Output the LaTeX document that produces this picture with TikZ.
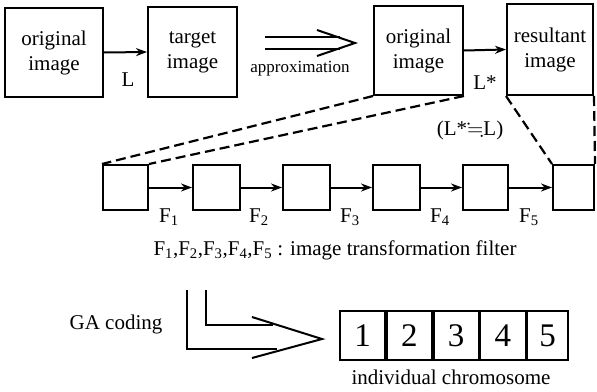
\documentclass[tikz,border=0pt]{standalone}
\usepackage{fontspec}
\usepackage{amssymb}
\setmainfont{Liberation Serif}
\usetikzlibrary{arrows.meta}
\begin{document}
\begin{tikzpicture}[x=1pt,y=-1pt,
  bigbox/.style={draw,line width=2pt,inner sep=0pt,align=center,font=\fontsize{21}{25}\selectfont},
  smallbox/.style={draw,line width=2pt,inner sep=0pt,minimum height=45pt},
  cell/.style={draw,line width=1.8pt,inner sep=0pt,minimum height=49pt,font=\fontsize{33}{34}\selectfont},
  arr/.style={line width=2pt,-{Stealth[length=11pt,width=8pt]}},
  thin/.style={line width=2pt},
  dsh/.style={line width=2.2pt,dash pattern=on 10pt off 5pt},
  lbl/.style={font=\fontsize{21}{24}\selectfont,inner sep=0pt},
]
\useasboundingbox (0,0) rectangle (597,391);
% top row
\node[bigbox,minimum width=98pt,minimum height=89pt] (o1) at (54,52.5) {original\\image};
\node[bigbox,minimum width=89pt,minimum height=90pt] (t) at (192.5,52) {target\\image};
\node[bigbox,minimum width=89pt,minimum height=89pt] (o2) at (418.5,50.5) {original\\image};
\node[bigbox,minimum width=86pt,minimum height=91pt] (r) at (550,49.5) {resultant\\image};
\draw[arr] (o1.east) -- (t.west);
\draw[arr] (o2.east) -- (r.west);
\node[lbl] (lL) at (128,80) {L};
\node[lbl] (lLs) at (485,83) {L*};
% approximation double arrow
\coordinate (a1) at (265,37);
\coordinate (a2) at (340,37);
\coordinate (a3) at (265,49);
\coordinate (a4) at (340,49);
\coordinate (ah1) at (317,30);
\coordinate (ah2) at (317,56);
\coordinate (atip) at (355,43);
\draw[thin] (a1) -- (a2);
\draw[thin] (a3) -- (a4);
\draw[thin,line join=miter] (ah1) -- (atip) -- (ah2);
\node[font=\fontsize{17}{20}\selectfont,inner sep=0pt] (ap) at (300,69) {approximation};
% relation label
\node[lbl] (rel) at (470,130) {(L*$\fallingdotseq$L)};
% small boxes
\node[smallbox,minimum width=45pt] (s1) at (125.5,187.5) {};
\node[smallbox,minimum width=47pt] (s2) at (216.5,187.5) {};
\node[smallbox,minimum width=47pt] (s3) at (306.5,187.5) {};
\node[smallbox,minimum width=47pt] (s4) at (396.5,187.5) {};
\node[smallbox,minimum width=45pt] (s5) at (485.5,187.5) {};
\node[smallbox,minimum width=41pt] (s6) at (573.5,187.5) {};
\draw[arr] (s1.east) -- (s2.west);
\draw[arr] (s2.east) -- (s3.west);
\draw[arr] (s3.east) -- (s4.west);
\draw[arr] (s4.east) -- (s5.west);
\draw[arr] (s5.east) -- (s6.west);
\node[lbl] (f1) at (169,217) {F\textsubscript{1}};
\node[lbl] (f2) at (259,217) {F\textsubscript{2}};
\node[lbl] (f3) at (350,217) {F\textsubscript{3}};
\node[lbl] (f4) at (440,217) {F\textsubscript{4}};
\node[lbl] (f5) at (529,217) {F\textsubscript{5}};
% zoom lines
\draw[dsh] (o2.south west) -- (s1.north west);
\draw[dsh] (o2.south east) -- (s1.north east);
\draw[dsh] (r.south west) -- (s6.north west);
\draw[dsh] (r.south east) -- (s6.north east);
% caption
\node[font=\fontsize{21}{24}\selectfont,inner sep=0pt] (cap) at (335,250) {F\textsubscript{1},F\textsubscript{2},F\textsubscript{3},F\textsubscript{4},F\textsubscript{5} : image transformation filter};
% GA coding
\node[font=\fontsize{21}{24}\selectfont,inner sep=0pt] (ga) at (116,324) {GA coding};
\coordinate (g1) at (187,290);
\coordinate (g2) at (187,349);
\coordinate (g3) at (277,349);
\coordinate (g4) at (206,290);
\coordinate (g5) at (206,325);
\coordinate (g6) at (273,325);
\coordinate (gh1) at (252,317);
\coordinate (gh2) at (252,358);
\coordinate (gtip) at (322,339);
\draw[thin] (g1) -- (g2) -- (g3);
\draw[thin] (g4) -- (g5) -- (g6);
\draw[thin,line join=miter] (gh1) -- (gtip) -- (gh2);
% chromosome
\node[cell,minimum width=45pt] (c1) at (362.5,335.5) {1};
\node[cell,minimum width=45pt,anchor=west] (c2) at (c1.east) {2};
\node[cell,minimum width=45pt,anchor=west] (c3) at (c2.east) {3};
\node[cell,minimum width=45pt,anchor=west] (c4) at (c3.east) {4};
\node[cell,minimum width=41pt,anchor=west] (c5) at (c4.east) {5};
\node[font=\fontsize{21}{24}\selectfont,inner sep=0pt] (ic) at (451,377) {individual chromosome};
\end{tikzpicture}
\end{document}
